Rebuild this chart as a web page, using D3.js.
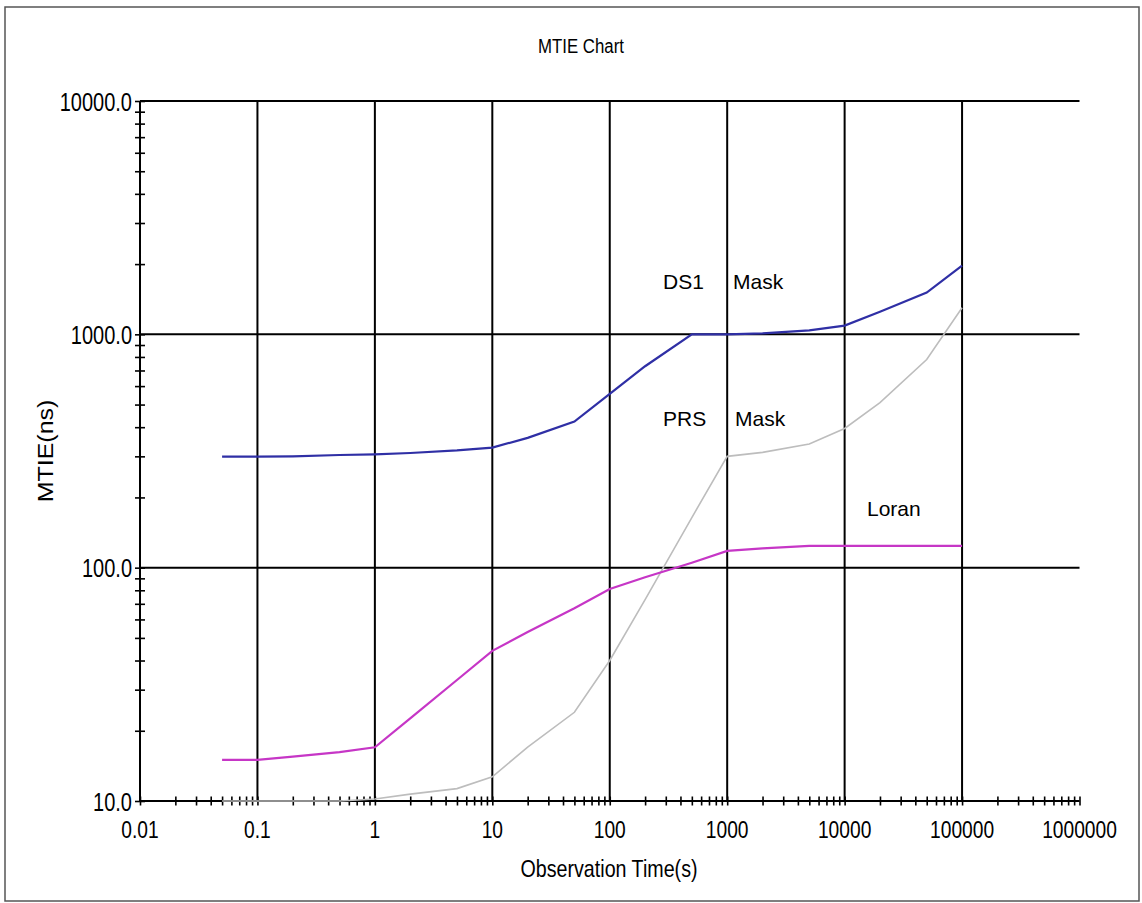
<!DOCTYPE html>
<html>
<head>
<meta charset="utf-8">
<script src="https://cdn.jsdelivr.net/npm/d3@7"></script>
<style>
  body { margin: 0; background: #fff; }
  svg { display: block; }
  text { font-family: "Liberation Sans", Arial, sans-serif; fill: #000; }
</style>
</head>
<body>
<script>
'use strict';

// axis decades and their labels
const xDecades = [0.01, 0.1, 1, 10, 100, 1000, 10000, 100000, 1000000];
const xTickLabels = ["0.01", "0.1", "1", "10", "100", "1000", "10000", "100000", "1000000"];
const yDecades = [10, 100, 1000, 10000];
const yTickLabels = ["10.0", "100.0", "1000.0", "10000.0"];

// observation times (s) and MTIE values (ns)
const ds1Time  = [0.05, 0.1, 0.2, 0.5, 1, 2, 5, 10, 20, 50, 100, 200, 500, 1000, 2000, 5000, 10000, 20000, 50000, 100000];
const ds1Mtie  = [299, 299, 300, 304, 306, 310, 318, 327, 360, 423, 556, 730, 1000, 1000, 1010, 1040, 1090, 1250, 1510, 1970];

const prsTime  = [0.05, 0.1, 0.2, 0.5, 1, 2, 5, 10, 20, 50, 100, 200, 500, 1000, 2000, 5000, 10000, 20000, 50000, 100000];
const prsMtie  = [10, 10, 10, 10, 10.2, 10.7, 11.3, 12.7, 17, 24, 40, 73, 164, 300, 312, 339, 395, 510, 780, 1300];

const loranTime = [0.05, 0.1, 0.2, 0.5, 1, 2, 5, 10, 20, 50, 100, 200, 500, 1000, 2000, 5000, 10000, 20000, 50000, 100000];
const loranMtie = [15, 15, 15.5, 16.2, 17, 22.6, 33, 44, 53, 67, 81, 91, 105, 118, 121, 124, 124, 124, 124, 124];

const W = 1142, H = 903;

const svg = d3.select('body').append('svg')
    .attr('width', W)
    .attr('height', H);

// outer frame
svg.append('rect')
    .attr('x', 5).attr('y', 7)
    .attr('width', 1134).attr('height', 894)
    .attr('fill', 'none')
    .attr('stroke', '#555')
    .attr('stroke-width', 1.5);

const x = d3.scaleLog().domain([0.01, 1000000]).range([140, 1079.5]);
const y = d3.scaleLog().domain([10, 10000]).range([801, 101]);

// squeezed text, like the original bitmap fonts
function squeezed(g, tx, ty, str, size, sx, anchor) {
    g.append('text')
        .attr('transform', 'translate(' + tx + ',' + ty + ') scale(' + sx + ',1)')
        .attr('text-anchor', anchor)
        .style('font-size', size + 'px')
        .text(str);
}

// grid
const grid = svg.append('g');
grid.selectAll('.vgrid')
    .data(xDecades.slice(1, -1))
    .enter().append('line')
    .attr('x1', (d) => x(d)).attr('x2', (d) => x(d))
    .attr('y1', y(10000)).attr('y2', y(10))
    .attr('stroke', '#000').attr('stroke-width', 2);
grid.selectAll('.hgrid')
    .data(yDecades)
    .enter().append('line')
    .attr('x1', x(0.01)).attr('x2', x(1000000))
    .attr('y1', (d) => y(d)).attr('y2', (d) => y(d))
    .attr('stroke', '#000').attr('stroke-width', 2);
grid.append('line')
    .attr('x1', x(0.01)).attr('x2', x(0.01))
    .attr('y1', y(10000)).attr('y2', y(10))
    .attr('stroke', '#000').attr('stroke-width', 2);

// minor + major tick positions
let xTicks = [];
xDecades.forEach((d, i) => {
    if (i === xDecades.length - 1) { xTicks.push(d); return; }
    for (let k = 1; k < 10; k++) xTicks.push(d * k);
});
let yTicks = [];
yDecades.forEach((d, i) => {
    if (i === yDecades.length - 1) { yTicks.push(d); return; }
    for (let k = 1; k < 10; k++) yTicks.push(d * k);
});

// x axis ticks (crossing the line)
const xAxis = svg.append('g')
    .attr('transform', 'translate(0,' + y(10) + ')')
    .call(d3.axisBottom(x).tickValues(xTicks).tickFormat('').tickSizeOuter(0));
xAxis.select('.domain').remove();
xAxis.selectAll('.tick line')
    .attr('y1', -4.5).attr('y2', 4.5)
    .attr('stroke', '#000').attr('stroke-width', 1.6);

// y axis ticks
const yAxis = svg.append('g')
    .attr('transform', 'translate(' + x(0.01) + ',0)')
    .call(d3.axisLeft(y).tickValues(yTicks).tickFormat('').tickSizeOuter(0));
yAxis.select('.domain').remove();
yAxis.selectAll('.tick line')
    .attr('x1', -5).attr('x2', 5)
    .attr('stroke', '#000').attr('stroke-width', 1.6);

// tick labels
const labels = svg.append('g');
xDecades.forEach((d, i) => squeezed(labels, x(d), y(10) + 37, xTickLabels[i], 24, 0.8, 'middle'));
yDecades.forEach((d, i) => squeezed(labels, x(0.01) - 8, y(d) + 9.5, yTickLabels[i], 25, 0.8, 'end'));

// titles
squeezed(svg, 581, 53, 'MTIE Chart', 21, 0.8, 'middle');
squeezed(svg, 609, 877, 'Observation Time(s)', 24, 0.82, 'middle');
svg.append('text')
    .attr('transform', 'translate(53,451) rotate(-90) scale(1,0.9)')
    .attr('text-anchor', 'middle')
    .style('font-size', '25px')
    .text('MTIE(ns)');

// series
const line = d3.line()
    .x((d) => x(d[0]))
    .y((d) => y(d[1]));

const series = [
    { t: prsTime, v: prsMtie, color: '#bdbdbd', w: 1.6 },
    { t: loranTime, v: loranMtie, color: '#c636c6', w: 2.2 },
    { t: ds1Time, v: ds1Mtie, color: '#2f2fa5', w: 2.2 }
];
series.forEach((s) => {
    svg.append('path')
        .datum(d3.zip(s.t, s.v))
        .attr('d', line)
        .attr('fill', 'none')
        .attr('stroke', s.color)
        .attr('stroke-width', s.w);
});

// series names
const names = svg.append('g').style('font-size', '21px');
names.append('text').attr('x', 663).attr('y', 289).text('DS1');
names.append('text').attr('x', 733).attr('y', 289).text('Mask');
names.append('text').attr('x', 663).attr('y', 426).text('PRS');
names.append('text').attr('x', 735).attr('y', 426).text('Mask');
names.append('text').attr('x', 867).attr('y', 516).text('Loran');
</script>
</body>
</html>
